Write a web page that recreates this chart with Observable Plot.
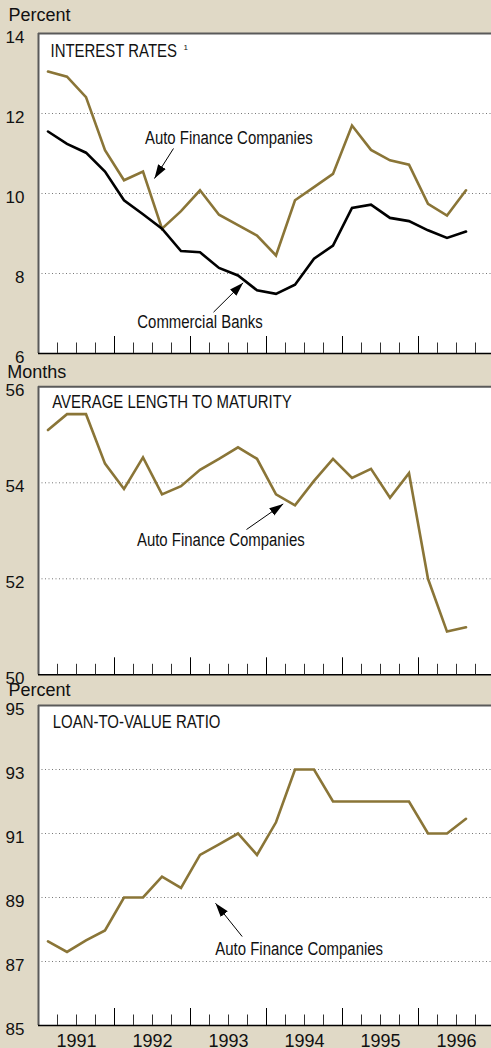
<!DOCTYPE html>
<html><head><meta charset="utf-8">
<script src="https://cdn.jsdelivr.net/npm/d3@7"></script>
<script src="https://cdn.jsdelivr.net/npm/@observablehq/plot@0.6"></script>
<style>
html,body{margin:0;padding:0;background:#e0d9c6;overflow:hidden;width:491px;height:1048px;}
#wrap{position:relative;width:491px;height:1048px;}
.panel{position:absolute;left:0;}
.panel svg{overflow:visible;display:block;}
</style></head><body><div id="wrap"></div>
<script>
// ---- data ----
const quarters = ["1991Q1","1991Q2","1991Q3","1991Q4","1992Q1","1992Q2","1992Q3","1992Q4",
  "1993Q1","1993Q2","1993Q3","1993Q4","1994Q1","1994Q2","1994Q3","1994Q4",
  "1995Q1","1995Q2","1995Q3","1995Q4","1996Q1","1996Q2","1996Q3"];
const autoRates = [13.05,12.92,12.41,11.08,10.33,10.55,9.12,9.56,10.08,9.47,9.21,8.95,8.45,9.83,10.16,10.49,11.70,11.09,10.83,10.72,9.74,9.45,10.08];
const bankRates = [11.55,11.24,11.02,10.55,9.83,9.48,9.12,8.56,8.53,8.14,7.95,7.58,7.49,7.72,8.37,8.70,9.64,9.72,9.39,9.31,9.08,8.89,9.05];
const maturity = [55.10,55.43,55.43,54.40,53.87,54.53,53.76,53.93,54.27,54.50,54.74,54.50,53.76,53.53,54.04,54.50,54.10,54.29,53.69,54.20,52.00,50.90,50.99];
const ltv = [87.63,87.30,87.66,87.97,89.0,89.0,89.65,89.30,90.33,90.66,91.0,90.33,91.35,93.0,93.0,92.0,92.0,92.0,92.0,92.0,91.0,91.0,91.46];
const years = [1991,1992,1993,1994,1995,1996];

const toX = q => +q.slice(0,4) + (+q.slice(5) - 0.5) / 4;
const rows = vals => quarters.map((q,i) => ({x: toX(q), v: vals[i]}));

const GOLD = "#8a7537";
const NARROW = "'Liberation Sans Narrow','Arial Narrow','Liberation Sans',sans-serif";
const SANS = "'Liberation Sans',Arial,sans-serif";

const minorTicks = [];
years.forEach(y => [0.25,0.5,0.75].forEach(f => minorTicks.push(y+f)));
const majorTicks = years.slice(1);
const midYears = years.map(y => y + 0.5);

function arrowHead(color) {
  const m = d3.create("svg:marker")
    .attr("viewBox","-14 -5 15 10")
    .attr("markerWidth",15).attr("markerHeight",10)
    .attr("markerUnits","userSpaceOnUse")
    .attr("orient","auto").attr("refX",0).attr("refY",0);
  m.append("path").attr("d","M-14,-4.5L0,0L-14,4.5Z").attr("fill","#000").attr("stroke","none");
  return m.node();
}

function panel(cfg) {
  const [y0,y1] = cfg.yDomain;
  const marks = [
    Plot.frame({fill:"white"}),
    Plot.ruleY(cfg.grid, {stroke:"#777", strokeWidth:1, strokeDasharray:"1,2.5"}),
    Plot.ruleY([y1], {stroke:"#5a5a5a", strokeWidth:2}),
    Plot.ruleX([1991], {stroke:"#5a5a5a", strokeWidth:2}),
    Plot.ruleY([y0], {stroke:"#000", strokeWidth:1.5}),
    Plot.axisX(minorTicks, {anchor:"bottom", tickSize:-10.5, tickFormat:() => "", stroke:"#333"}),
    Plot.axisX(majorTicks, {anchor:"bottom", tickSize:-17, tickFormat:() => "", stroke:"#000"}),
    Plot.axisY(cfg.yTicks, {anchor:"left", tickSize:0, tickPadding:14, dy:4, fontSize:17, fontFamily:SANS, fill:"#111"}),
    ...cfg.series.map(s => Plot.line(rows(s.values), {x:"x", y:"v", stroke:s.color, strokeWidth:2.6, strokeLinejoin:"miter", strokeMiterlimit:3})),
    ...cfg.notes.map(n => Plot.link([n], {x1:"tx", y1:"ty", x2:"hx", y2:"hy", stroke:"#000", strokeWidth:1, markerEnd:arrowHead})),
    Plot.text(cfg.notes, {x:"lx", y:"ly", text:"label", fontSize:18, fontFamily:NARROW, fill:"#111", textAnchor:"middle", lineAnchor:"middle"}),
    Plot.text([cfg.title], {frameAnchor:"top-left", dx:cfg.titleDx, dy:cfg.titleDy, fontSize:18, fontFamily:NARROW, fill:"#111", textAnchor:"start", lineAnchor:"middle"}),
    Plot.text([cfg.unit], {frameAnchor:"top-left", dx:cfg.unitDx, dy:cfg.unitDy, fontSize:18, fontFamily:SANS, fill:"#111", textAnchor:"start", lineAnchor:"middle"})
  ];
  if (cfg.sup) marks.push(Plot.text([cfg.sup.text], {frameAnchor:"top-left", dx:cfg.sup.dx, dy:cfg.sup.dy, fontSize:8, fontFamily:SANS, fill:"#111", textAnchor:"start", lineAnchor:"middle"}));
  if (cfg.showYears) marks.push(Plot.axisX(midYears, {anchor:"bottom", tickSize:0, tickPadding:9, tickFormat:d => String(Math.floor(d)), fontSize:18, fontFamily:SANS, fill:"#111"}));
  const chart = Plot.plot({
    width:491, height:cfg.height,
    marginLeft:38, marginRight:0, marginTop:cfg.marginTop, marginBottom:cfg.marginBottom,
    style:{background:"transparent", overflow:"visible", fontFamily:SANS},
    x:{domain:[1991,1997], range:[38,494], axis:null},
    y:{domain:cfg.yDomain, axis:null},
    marks
  });
  const div = document.createElement("div");
  div.className = "panel";
  div.style.top = cfg.top + "px";
  div.appendChild(chart);
  document.getElementById("wrap").appendChild(div);
  // condensed face is not installed: compress the narrow texts horizontally
  d3.select(chart).selectAll('g[font-family*="Narrow"] text').each(function() {
    const w = this.getComputedTextLength();
    this.setAttribute("textLength", (w * 0.83).toFixed(1));
    this.setAttribute("lengthAdjust", "spacingAndGlyphs");
  });
}

panel({
  top:0, height:365, marginTop:33, marginBottom:12,
  yDomain:[6,14], yTicks:[6,8,10,12,14], grid:[8,10,12],
  series:[{values:autoRates, color:GOLD},{values:bankRates, color:"#000"}],
  notes:[
    {label:"Auto Finance Companies", lx:1993.504, ly:11.375, tx:1992.776, ty:11.125, hx:1992.526, hy:10.375},
    {label:"Commercial Banks", lx:1993.125, ly:6.78, tx:1993.303, ty:7.033, hx:1993.693, hy:7.767}
  ],
  title:"INTEREST RATES", titleDx:12, titleDy:18, sup:{text:"1", dx:145, dy:14},
  unit:"Percent", unitDx:-30, unitDy:-18.4
});
panel({
  top:365, height:317, marginTop:21.3, marginBottom:7.7,
  yDomain:[50,56], yTicks:[50,52,54,56], grid:[52,54],
  series:[{values:maturity, color:GOLD}],
  notes:[
    {label:"Auto Finance Companies", lx:1993.399, ly:52.80, tx:1993.737, ty:53.027, hx:1994.22, hy:53.56}
  ],
  title:"AVERAGE LENGTH TO MATURITY", titleDx:13.7, titleDy:15.4,
  unit:"Months", unitDx:-31.3, unitDy:-14.4
});
panel({
  top:682, height:366, marginTop:23, marginBottom:23,
  yDomain:[85,95], yTicks:[85,87,89,91,93,95], grid:[87,89,91,93],
  series:[{values:ltv, color:GOLD}],
  notes:[
    {label:"Auto Finance Companies", lx:1994.43, ly:87.37, tx:1993.68, ty:87.78, hx:1993.329, hy:88.82}
  ],
  title:"LOAN-TO-VALUE RATIO", titleDx:14.3, titleDy:16.7,
  unit:"Percent", unitDx:-30, unitDy:-15, showYears:true
});
</script></body></html>
